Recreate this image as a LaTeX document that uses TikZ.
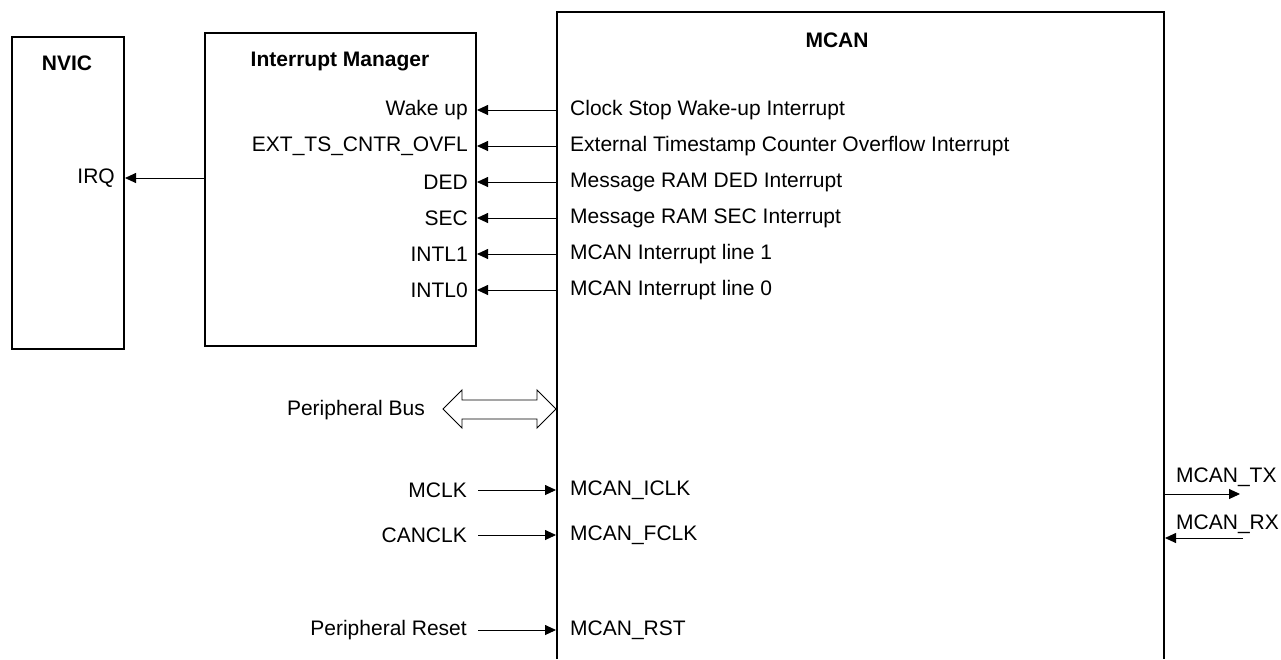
\documentclass[tikz,border=0pt]{standalone}
\usepackage{fontspec}
\setmainfont{Liberation Sans}
\usetikzlibrary{arrows.meta}
\begin{document}
\begin{tikzpicture}[x=1pt,y=-1pt,
  box/.style={draw,line width=1.8pt},
  conn/.style={line width=0.9pt,-{Triangle[length=11pt,width=10pt]}},
  lbl/.style={inner sep=0pt,font=\fontsize{21}{25}\selectfont},
  ttl/.style={inner sep=0pt,font=\fontsize{21}{25}\selectfont\bfseries}]
\useasboundingbox (0,0) rectangle (1281,659);
% boxes
\draw[box] (12,37) rectangle (124,349);
\draw[box] (205,33) rectangle (476,346);
\draw[box] (557,659) -- (557,12) -- (1164,12) -- (1164,659);
\node[ttl] (nvic) at (67,63) {NVIC};
\node[ttl] (im) at (340,61) {Interrupt Manager};
\node[ttl] (mcan) at (837,40) {MCAN};
% interrupt lines
\foreach \y/\l/\r/\n in {110/Wake up/Clock Stop Wake-up Interrupt/a,
  146/EXT\_TS\_CNTR\_OVFL/External Timestamp Counter Overflow Interrupt/b,
  182/DED/Message RAM DED Interrupt/c,
  218/SEC/Message RAM SEC Interrupt/d,
  254/INTL1/MCAN Interrupt line 1/e,
  290/INTL0/MCAN Interrupt line 0/f}{
  \coordinate (s\n) at (557,\y);
  \coordinate (t\n) at (477,\y);
  \node[lbl,anchor=east] (l\n) at (468,\y) {\l};
  \node[lbl,anchor=west] (r\n) at (570,\y) {\r};
  \draw[conn] (s\n) -- (t\n);
}
% IRQ
\coordinate (irqs) at (205,178);
\coordinate (irqt) at (125,178);
\node[lbl,anchor=east] (irq) at (115,178) {IRQ};
\draw[conn] (irqs) -- (irqt);
% peripheral bus
\node[lbl,anchor=east] (pbus) at (425,410) {Peripheral Bus};
\draw[line width=0.9pt] (443,409) -- (462,390) -- (462,400) -- (537,400) -- (537,390) -- (556,409) -- (537,428) -- (537,419) -- (462,419) -- (462,428) -- cycle;
% clocks and reset
\foreach \y/\l/\r/\n in {490/MCLK/MCAN\_ICLK/g, 535/CANCLK/MCAN\_FCLK/h, 630/Peripheral Reset/MCAN\_RST/i}{
  \node[lbl,anchor=east] (l\n) at (467,\y) {\l};
  \node[lbl,anchor=west] (r\n) at (570,\y) {\r};
  \coordinate (s\n) at (478,\y);
  \coordinate (t\n) at (556,\y);
  \draw[conn] (s\n) -- (t\n);
}
% TX / RX
\coordinate (txs) at (1165,494);
\coordinate (txt) at (1240,494);
\node[lbl,anchor=west] (tx) at (1176,477) {MCAN\_TX};
\draw[conn] (txs) -- (txt);
\coordinate (rxs) at (1243,538);
\coordinate (rxt) at (1165,538);
\node[lbl,anchor=west] (rx) at (1176,524) {MCAN\_RX};
\draw[conn] (rxs) -- (rxt);
\end{tikzpicture}
\end{document}
